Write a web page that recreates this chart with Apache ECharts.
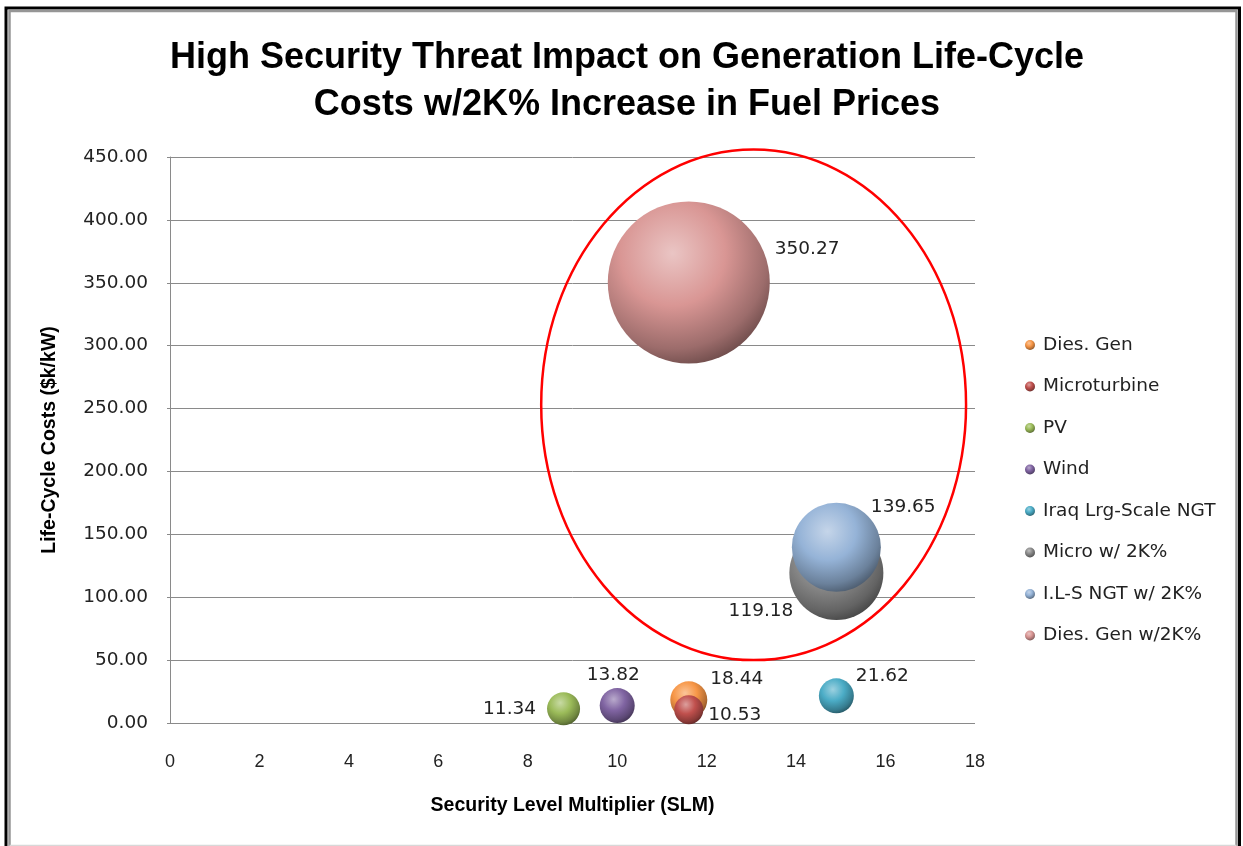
<!DOCTYPE html>
<html>
<head>
<meta charset="utf-8">
<title>High Security Threat Impact on Generation Life-Cycle Costs</title>
<script src="https://cdn.jsdelivr.net/npm/echarts@6/dist/echarts.min.js"></script>
<style>
  html, body { margin: 0; padding: 0; background: #fff; }
  #chart { width: 1243px; height: 846px; }
</style>
</head>
<body>
<div id="chart"></div>
<script>
// Generation technologies (one bubble series each)
const seriesNames = ['Dies. Gen', 'Microturbine', 'PV', 'Wind', 'Iraq Lrg-Scale NGT',
  'Micro w/ 2K%', 'I.L-S NGT w/ 2K%', 'Dies. Gen w/2K%'];
// Security Level Multiplier (x)
const slmValues = [11.6, 11.6, 8.8, 10.0, 14.9, 14.9, 14.9, 11.6];
// Life-cycle costs, $k/kW (y)
const costValues = [18.44, 10.53, 11.34, 13.82, 21.62, 119.18, 139.65, 350.27];
// Relative bubble sizes (area)
const bubbleSizes = [13.7, 8.4, 10.9, 12.25, 12.25, 88.4, 79.2, 262.4];
// Base colours of the spheres
const baseColors = ['#F79646', '#C0504D', '#9BBB59', '#8064A2', '#4BACC6',
  '#8A8A8A', '#95B3D7', '#D99694'];
// Axis ticks
const xTicks = [0, 2, 4, 6, 8, 10, 12, 14, 16, 18];
const yTicks = [0, 50, 100, 150, 200, 250, 300, 350, 400, 450];
// Data-label placement for each series: [position, offsetX, offsetY]
const labelPlacement = [
  ['right', -2, -21], ['right', 0, 5], ['left', -6, 0], ['top', -4, 2],
  ['right', -3, -20], ['left', 9, 38], ['right', -15, -40], ['right', 0, -33]
];
// Highlight ellipse around the fuel-price scenarios (data units)
const ellipseCenter = [13.05, 253];
const ellipseRadius = [4.75, 203];

function shade(hex, f) {
  const n = parseInt(hex.slice(1), 16);
  let r = (n >> 16) & 255, g = (n >> 8) & 255, b = n & 255;
  if (f >= 0) { r += (255 - r) * f; g += (255 - g) * f; b += (255 - b) * f; }
  else { r *= 1 + f; g *= 1 + f; b *= 1 + f; }
  return 'rgb(' + Math.round(r) + ',' + Math.round(g) + ',' + Math.round(b) + ')';
}
function sphere(hex) {
  return new echarts.graphic.RadialGradient(0.4, 0.32, 0.72, [
    { offset: 0, color: shade(hex, 0.45) },
    { offset: 0.45, color: hex },
    { offset: 0.82, color: shade(hex, -0.28) },
    { offset: 1, color: shade(hex, -0.5) }
  ]);
}

const chart = echarts.init(document.getElementById('chart'), null, { renderer: 'canvas' });

const series = seriesNames.map((name, i) => ({
  name: name,
  type: 'scatter',
  symbol: 'circle',
  data: [[slmValues[i], costValues[i], bubbleSizes[i]]],
  symbolSize: v => 10 * Math.sqrt(v[2]),
  itemStyle: { color: sphere(baseColors[i]), opacity: 1 },
  label: {
    show: true,
    position: labelPlacement[i][0],
    offset: [labelPlacement[i][1], labelPlacement[i][2]],
    distance: 5,
    formatter: p => p.value[1].toFixed(2),
    color: '#222',
    fontFamily: 'DejaVu Sans',
    fontSize: 18.5
  },
  emphasis: { disabled: true },
  z: 2 + i
}));

chart.setOption({
  animation: false,
  backgroundColor: '#fff',
  title: {
    text: 'High Security Threat Impact on Generation Life-Cycle\nCosts w/2K% Increase in Fuel Prices',
    left: 622,
    top: 30,
    textAlign: 'center',
    textStyle: {
      fontFamily: '"Liberation Sans", sans-serif',
      fontWeight: 'bold',
      fontSize: 36,
      lineHeight: 47,
      color: '#000'
    }
  },
  legend: {
    orient: 'vertical',
    left: 1020,
    top: 330,
    itemWidth: 12,
    itemHeight: 10,
    itemGap: 21.5,
    icon: 'circle',
    data: seriesNames,
    textStyle: { fontFamily: 'DejaVu Sans', fontSize: 18.5, color: '#222', lineHeight: 20,
      padding: [0, 0, 0, 2] }
  },
  grid: { left: 170, right: 268, top: 157, bottom: 123 },
  xAxis: {
    type: 'value',
    min: xTicks[0],
    max: xTicks[xTicks.length - 1],
    interval: 2,
    name: 'Security Level Multiplier (SLM)',
    nameLocation: 'middle',
    nameGap: 73,
    nameTextStyle: {
      fontFamily: '"Liberation Sans", sans-serif',
      fontWeight: 'bold', fontSize: 19.5, color: '#000'
    },
    axisLine: { show: false },
    axisTick: { show: false },
    splitLine: { show: false },
    axisLabel: {
      margin: 30,
      fontFamily: '"Liberation Sans", sans-serif',
      fontSize: 18,
      color: '#222',
      formatter: v => xTicks.includes(v) ? String(v) : ''
    }
  },
  yAxis: {
    type: 'value',
    min: yTicks[0],
    max: yTicks[yTicks.length - 1],
    interval: 50,
    name: 'Life-Cycle Costs ($k/kW)',
    nameLocation: 'middle',
    nameGap: 110,
    nameRotate: 90,
    nameTextStyle: {
      fontFamily: '"Liberation Sans", sans-serif',
      fontWeight: 'bold', fontSize: 19.5, color: '#000'
    },
    axisLine: { show: true, lineStyle: { color: '#8a8a8a', width: 1 } },
    axisTick: { show: true, length: 3, lineStyle: { color: '#8a8a8a' } },
    splitLine: { show: true, lineStyle: { color: '#8a8a8a', width: 1 } },
    axisLabel: {
      margin: 22,
      fontFamily: 'DejaVu Sans',
      fontSize: 18.5,
      color: '#222',
      formatter: v => v.toFixed(2)
    }
  },
  series: series
});

// Outer frame and highlight ellipse
const c = chart.convertToPixel({ gridIndex: 0 }, ellipseCenter);
const e = chart.convertToPixel({ gridIndex: 0 },
  [ellipseCenter[0] + ellipseRadius[0], ellipseCenter[1] + ellipseRadius[1]]);
chart.setOption({
  graphic: [
    { type: 'rect', shape: { x: 6, y: 8, width: 1233.5, height: 900 },
      style: { fill: null, stroke: '#000', lineWidth: 3 }, silent: true, z: 100 },
    { type: 'polyline', shape: { points: [[9.5, 846], [9.5, 11], [1236.5, 11], [1236.5, 846]] },
      style: { fill: null, stroke: '#969696', lineWidth: 2.5 }, silent: true, z: 100 },
    { type: 'line', shape: { x1: 9.5, y1: 845.5, x2: 1236.5, y2: 845.5 },
      style: { stroke: '#d8d8d8', lineWidth: 1.5 }, silent: true, z: 100 },
    { type: 'ellipse', shape: { cx: c[0], cy: c[1], rx: e[0] - c[0], ry: c[1] - e[1] },
      style: { fill: null, stroke: '#ff0000', lineWidth: 2.5 }, silent: true, z: 50 }
  ]
});
</script>
</body>
</html>
